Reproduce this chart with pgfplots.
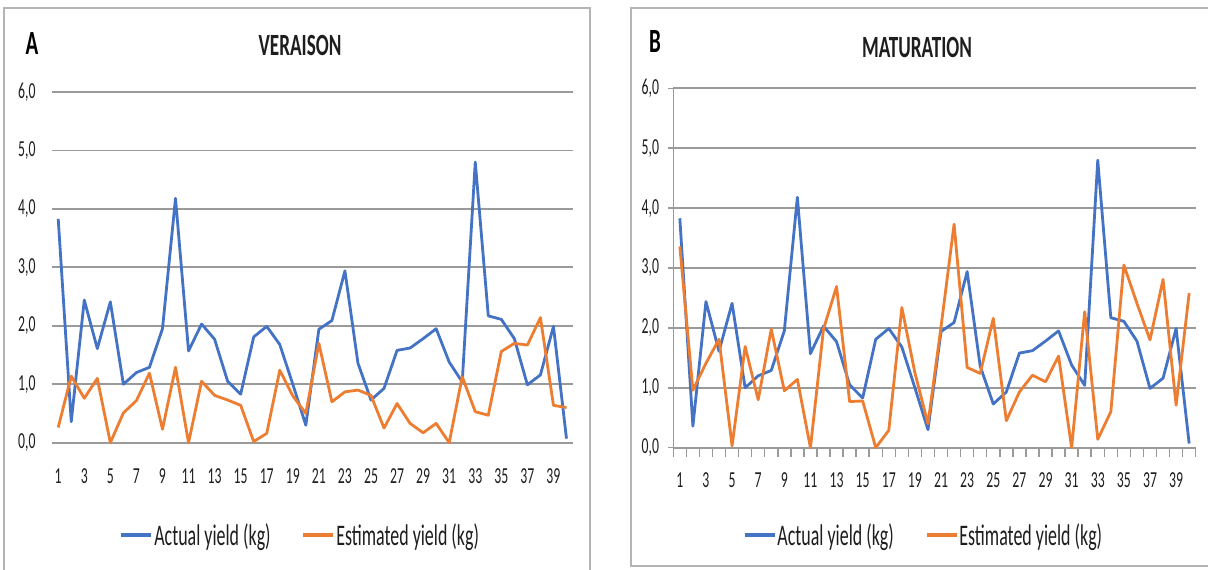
\documentclass[border=0pt]{standalone}
\usepackage{fontspec}
\setmainfont{Carlito}
\usepackage{graphicx}
\usepackage{pgfplots}
\usepackage{pgfplotstable}
\pgfplotsset{compat=1.18}

\definecolor{actualblue}{HTML}{4472C4}
\definecolor{estorange}{HTML}{ED7D31}
\definecolor{gridgray}{HTML}{9A9A9A}
\definecolor{framegray}{HTML}{B4B4B4}
\definecolor{txt}{HTML}{1E1E1E}

% narrow text, as set in the spreadsheet export
\newcommand{\sq}[1]{\scalebox{0.6}[1]{#1}}
\newcommand{\sqt}[1]{\scalebox{0.62}[1]{#1}}

% plant number, actual yield, estimated yield at veraison and at maturation (kg)
\pgfplotstableread{
n actual estA estB
1 3.83 0.26 3.36
2 0.36 1.14 0.96
3 2.44 0.76 1.41
4 1.61 1.10 1.81
5 2.41 0.00 0.03
6 1.00 0.51 1.69
7 1.20 0.72 0.80
8 1.29 1.19 1.98
9 1.95 0.23 0.95
10 4.18 1.29 1.14
11 1.57 0.00 0.00
12 2.03 1.05 1.98
13 1.77 0.81 2.69
14 1.05 0.73 0.77
15 0.83 0.64 0.78
16 1.81 0.02 0.00
17 1.99 0.16 0.29
18 1.68 1.24 2.34
19 1.00 0.80 1.25
20 0.30 0.50 0.40
21 1.94 1.70 2.02
22 2.09 0.70 3.73
23 2.94 0.87 1.34
24 1.36 0.90 1.24
25 0.73 0.81 2.16
26 0.93 0.25 0.45
27 1.58 0.67 0.93
28 1.62 0.33 1.21
29 1.78 0.17 1.10
30 1.95 0.33 1.53
31 1.38 0.00 0.00
32 1.04 1.13 2.27
33 4.80 0.53 0.14
34 2.17 0.47 0.60
35 2.11 1.56 3.05
36 1.78 1.70 2.41
37 0.99 1.67 1.80
38 1.16 2.14 2.81
39 1.99 0.64 0.71
40 0.07 0.60 2.58
}\yielddata

\pgfplotsset{
  yieldaxis/.style={
    scale only axis,
    anchor=south west,
    xmin=0.5, xmax=40.5,
    ymin=0, ymax=6,
    ytick={0,1,...,6},
    xtick={1,3,...,39},
    ymajorgrids,
    grid style={gridgray, line width=1.8bp},
    axis line style={draw=none},
    /pgf/number format/assume math mode=true,
    yticklabel={\sq{\pgfmathprintnumber[fixed,fixed zerofill,precision=1,use comma]{\tick}}},
    xticklabel={\sq{\pgfmathprintnumber{\tick}}},
    ticklabel style={font=\fontsize{23}{23}\selectfont, text=txt, inner sep=0pt},
    clip=false,
    legend columns=2,
    legend cell align=left,
    legend image code/.code={\draw[#1, line width=3.6bp] (0bp,0bp) -- (30bp,0bp);},
    legend style={draw=none, fill=none, anchor=center, inner sep=0pt,
      font=\fontsize{30}{30}\selectfont, text=txt,
      nodes={inner sep=1bp},
      /tikz/every even column/.append style={column sep=30bp}},
  },
  actualline/.style={actualblue, line width=2.8bp, line join=round},
  estline/.style={estorange, line width=2.8bp, line join=round},
}

\begin{document}
\begin{tikzpicture}
\path[use as bounding box] (0bp,0bp) rectangle (1208bp,-570bp);
\fill[white] (0bp,0bp) rectangle (1208bp,-570bp);

% panel frames
\draw[framegray, line width=1.5bp] (4bp,-575bp) -- (4bp,-8bp) -- (590bp,-8bp) -- (590bp,-575bp);
\draw[framegray, line width=1.5bp] (1215bp,-566bp) -- (631bp,-566bp) -- (631bp,-8bp) -- (1215bp,-8bp);

% panel A: veraison
\node[font=\fontsize{34}{34}\selectfont\bfseries, text=black] at (32bp,-44bp) {\sqt{A}};
\node[font=\fontsize{31}{31}\selectfont\bfseries, text=txt] at (300bp,-45bp) {\sqt{VERAISON}};
\begin{axis}[yieldaxis,
  at={(51.7bp,-442.7bp)}, width=521.3bp, height=350.7bp,
  major tick length=0pt,
  yticklabel style={anchor=east, xshift=-16bp},
  xticklabel style={anchor=north, yshift=-26bp},
  legend style={at={(0.476,-0.263)}},
]
\addplot[actualline] table[x=n, y=actual] {\yielddata};
\addlegendentry{\sq{Actual yield (kg)}}
\addplot[estline] table[x=n, y=estA] {\yielddata};
\addlegendentry{\sq{Estimated yield (kg)}}
\end{axis}

% panel B: maturation
\node[font=\fontsize{34}{34}\selectfont\bfseries, text=black] at (655bp,-42bp) {\sqt{B}};
\node[font=\fontsize{31}{31}\selectfont\bfseries, text=txt] at (917bp,-47bp) {\sqt{MATURATION}};
\begin{axis}[yieldaxis,
  at={(673.3bp,-447.7bp)}, width=522.4bp, height=359.4bp,
  axis y line*=left,
  axis x line*=bottom,
  x axis line style={draw=none},
  y axis line style={draw=gridgray, line width=1.5bp, -},
  tick align=outside,
  every major x tick/.append style={draw=none},
  ytick style={gridgray, line width=1.5bp},
  major tick length=5bp,
  minor xtick={0.5,1.5,...,40.5},
  minor x tick style={gridgray, line width=1.5bp},
  minor tick length=9bp,
  yticklabel style={anchor=east, xshift=-9bp},
  xticklabel style={anchor=north, yshift=-20bp},
  legend style={at={(0.478,-0.243)}},
]
\addplot[actualline] table[x=n, y=actual] {\yielddata};
\addlegendentry{\sq{Actual yield (kg)}}
\addplot[estline] table[x=n, y=estB] {\yielddata};
\addlegendentry{\sq{Estimated yield (kg)}}
\end{axis}
\end{tikzpicture}
\end{document}
